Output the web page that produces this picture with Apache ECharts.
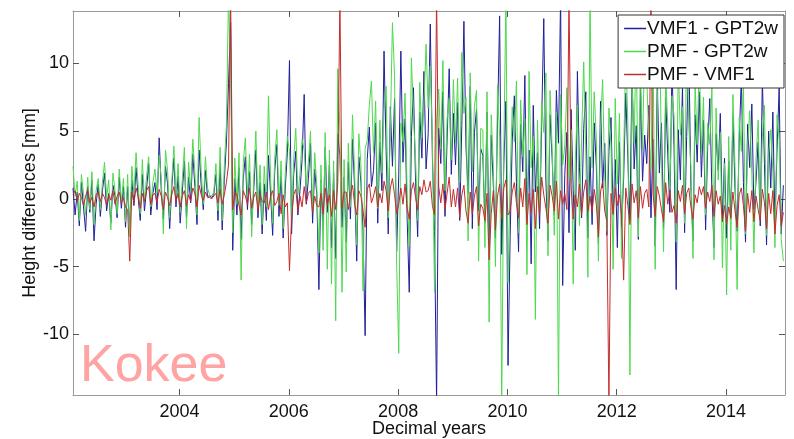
<!DOCTYPE html>
<html>
<head>
<meta charset="utf-8">
<script src="https://cdn.jsdelivr.net/npm/echarts@6/dist/echarts.min.js"></script>
<style>
  html, body { margin: 0; padding: 0; background: #fff; }
  #chart { width: 794px; height: 439px; }
</style>
</head>
<body>
<div id="chart"></div>
<script>
// Sampling epochs: two-weekly solutions starting at 2002.05
const epochStart = 2002.05;
const epochStep = 1 / 26;

// Height differences [mm], one line per half year
const vmf1MinusGpt2w = [
  0.8, -1.2, 0.5, -2.0, 1.2, -0.6, -2.4, 0.9, -1.0, 1.4, -3.1, -0.4, 1.1,
  -1.3, 0.6, 1.9, -0.9, 0.4, -1.8, 1.0, 0.2, -1.4, 1.6, -0.7, 0.9, -2.1,
  0.9, -2.2, 1.4, -0.5, 2.3, 0.1, -1.6, 1.8, -0.9, 0.7, 2.6, -1.2, 0.4,
  1.2, -0.8, 4.5, 0.6, -1.5, 2.4, 1.1, -2.2, 0.8, 3.0, -0.6, 1.7, -1.8,
  0.5, 2.8, -1.4, 1.6, -0.3, 3.3, 0.9, -1.9, 3.6, 1.0, -0.8, 2.1, 0.2,
  0.2, 0.1, 0.3, 1.8, -1.6, 2.6, -2.3, 1.4, 4.2, 8.5, 13.0, -3.8, 1.5,
  -1.2, 2.3, -3.0, 1.5, 3.1, -0.8, 2.0, -1.9, 0.7, 3.6, -1.4, 1.2, -2.6,
  1.1, -1.6, 3.2, 0.4, -2.7, 2.1, 4.0, -1.3, 1.7, -2.9, 0.8, 3.4, 10.2,
  -2.6, 1.8, 3.5, -1.2, 0.6, 2.9, 7.7, -0.4, 1.5, 4.1, -1.8, 2.2, 0.3,
  -6.7, 1.4, -2.3, 3.8, -1.0, 2.5, -3.6, 1.9, -4.4, 4.8, 3.2, -2.1, 1.6,
  -3.2, 2.7, -1.5, 4.4, 0.8, -4.6, 3.1, 1.2, -2.4, -10.1, 2.9, 5.3, 0.9,
  2.1, 5.6, -1.8, 4.2, 0.6, 10.9, 3.5, -2.6, 6.8, 2.4, 7.4, -3.9, 1.8,
  10.9, 2.7, 5.9, -1.5, -6.9, 4.6, 8.2, 1.3, -2.8, 6.4, 3.0, 9.4, 2.2,
  4.8, 12.9, 3.1, -2.4, -15.0, 5.2, 2.6, 7.9, -1.3, 4.4, 9.6, 1.8, 6.3,
  2.5, 7.1, -1.6, 5.4, 13.1, 3.8, 0.4, 8.3, -2.2, 4.9, 6.6, -0.9, 3.7,
  3.2, -1.8, 6.4, -3.5, 4.7, 1.0, -2.9, 5.8, 13.5, -4.1, 2.6, 7.2, -12.3,
  -2.8, 4.3, 7.6, 1.2, -3.9, 5.5, 2.0, 9.1, -1.7, 3.6, -4.8, 6.9, 0.5,
  3.4, -2.2, 5.7, 13.3, 1.4, -3.1, 6.2, 2.9, -1.2, 8.0, 4.1, 15.0, -6.4,
  1.8, 4.9, -2.5, 6.6, 0.7, -3.8, 9.4, 2.3, -1.4, 5.2, 7.9, -2.9, 3.1,
  -1.9, 5.6, 2.4, -3.3, 7.2, 0.8, 4.1, -2.7, 3.5, 6.0, -1.2, 2.9, -3.6,
  4.2, -2.1, 1.5, 7.8, 3.0, -1.6, 9.6, 2.2, 5.4, -3.0, 8.1, 1.3, 4.7,
  2.6, 6.9, -1.4, 4.4, -3.5, 8.7, 1.9, 5.6, -2.2, 7.5, 3.3, -1.0, 9.8,
  3.7, -6.7, 5.1, 1.4, 8.3, -2.5, 4.6, 11.2, 0.9, -3.1, 6.2, 2.7, 7.9,
  1.6, 5.8, -2.3, 3.9, 7.4, 0.5, -3.6, 4.8, 2.1, 6.3, -1.7, 3.0, -2.9,
  2.8, -1.5, 6.1, 0.7, -2.4, 4.4, 8.9, 1.2, -3.2, 5.5, 2.3, 7.0, -0.8,
  1.3, 4.2, -2.0, 8.9, 2.6, -3.4, 5.0, 0.8, 6.4, -1.9, 3.7, 8.2, -2.6,
  1.0
];

const pmfMinusGpt2w = [
  2.4, 0.2, 1.3, -1.6, 1.8, 0.4, -1.2, 1.6, -0.8, 2.0, -1.9, 0.6, 1.5,
  -0.8, 1.2, 2.7, 0.1, 1.4, -2.3, 1.9, 0.6, -1.1, 2.2, -0.3, 1.5, -1.7,
  1.8, -2.8, 2.4, 0.3, 3.4, 1.0, -1.1, 2.9, -0.2, 1.6, 3.1, -0.6, 1.2,
  2.2, 0.4, 3.2, 1.5, -2.6, 3.6, 2.1, -1.4, 1.3, 3.9, 0.2, 2.6, -1.0,
  1.4, 3.8, -2.2, 2.7, 0.6, 4.4, 1.9, -1.2, 6.0, 2.0, -0.4, 3.1, 0.8,
  0.3, 0.2, 0.5, 2.6, -0.9, 3.8, -1.6, 2.4, 5.5, 15.0, 9.2, -2.5, 3.0,
  -0.4, 3.4, -6.0, 2.6, 4.5, 0.2, 3.3, -2.8, 1.6, 5.0, -0.7, 2.5, -1.9,
  2.4, -0.6, 7.6, 1.5, -1.8, 3.0, 5.1, -0.5, 2.8, -2.2, 1.9, 4.6, 3.5,
  -1.5, 2.9, 5.2, 0.3, 1.8, 4.4, 3.6, 0.8, 2.7, 5.0, -0.9, 3.4, 1.0,
  -4.0, 2.5, -3.8, 4.9, -5.2, 3.6, -6.3, 2.8, -9.0, 9.6, 5.0, -6.9, 2.9,
  -5.4, 4.1, -0.6, 6.2, 1.9, -3.4, 4.8, 2.5, -6.8, 3.7, 4.3, 6.9, 8.7,
  3.4, 7.2, -0.7, 5.8, 1.9, 6.6, 8.3, -1.4, 5.2, 13.0, 9.1, -4.8, -11.4,
  5.6, 4.2, 7.8, 0.4, -3.5, 10.4, 6.1, 2.9, -1.6, 8.6, 4.5, 7.0, 11.4,
  6.7, 9.8, 4.4, -6.9, 6.0, 8.1, 3.7, 10.2, 0.6, 5.9, 7.4, 2.9, 8.8,
  4.1, 8.9, 1.2, 10.8, 6.3, 7.5, -3.1, 9.3, 2.0, 6.8, 8.0, -4.6, 5.2,
  5.1, -3.6, 7.9, -9.1, 6.2, 2.4, -5.0, 8.4, 4.6, -15.0, 3.8, 15.0, -6.2,
  1.6, 6.8, 4.2, 8.7, -2.5, 7.3, 3.1, 5.9, -5.6, 9.4, 2.3, 4.6, -8.9,
  5.8, -1.0, 7.1, 4.9, 9.3, -4.2, 8.0, 3.6, -2.7, 6.4, -15.0, 7.7, 2.5,
  3.9, 8.2, 1.5, 5.1, -6.3, 2.8, 6.9, -2.0, 4.4, 10.1, 3.3, -5.8, 15.0,
  2.3, 7.9, 4.5, -4.6, 5.3, 8.8, 1.7, -2.4, 6.7, 3.9, -5.2, 7.4, 1.1,
  6.3, -4.4, 3.2, 10.6, 5.7, -13.0, 8.4, 4.1, 12.2, -2.8, 9.7, 3.6, 11.5,
  8.9, 4.6, 2.2, 11.1, -5.2, 6.4, 13.5, 3.0, -3.9, 9.2, 5.5, 0.7, 7.6,
  6.1, -3.2, 9.9, 4.7, 6.8, -1.8, 12.6, 5.3, 2.4, -4.4, 8.5, 4.0, 10.4,
  3.3, 7.5, -1.2, 5.6, 4.0, 8.2, -4.5, 6.7, 1.4, 4.9, -5.1, 2.6, -7.1,
  4.6, -3.8, 7.7, 2.3, -6.7, 6.0, 3.5, 8.4, -2.6, 3.9, 6.5, 1.8, -4.0,
  3.0, 5.8, -1.3, 4.5, 6.9, -2.7, 3.3, 5.1, 2.0, -3.6, 6.2, 4.4, -3.0,
  -4.6
];

const pmfMinusVmf1 = [
  0.3, 0.6, -0.2, 0.4, 0.1, -0.5, 0.2, 0.7, -0.3, 0.1, -0.6, 0.3, 0.5,
  -0.2, 0.4, 0.1, -0.5, 0.3, -0.1, 0.6, -0.4, 0.2, 0.5, -0.3, 0.1, -0.6,
  -0.8, -4.6, 0.5, -0.3, 0.8, 0.2, -0.7, 0.4, -0.2, 0.6, 0.9, -0.4, 0.3,
  0.4, -0.3, 0.7, 0.2, -0.8, 0.5, 0.1, -0.5, 0.3, 0.9, -0.2, 0.4, -0.6,
  0.2, 0.6, -0.5, 0.3, -0.2, 0.8, 0.4, -0.6, 1.0, 0.3, -0.1, 0.5, 0.1,
  0.1, 0.0, 0.2, 0.4, -0.3, 0.7, -0.4, 0.3, 1.2, 2.5, 15.0, -0.8, 0.5,
  0.3, -0.5, -1.2, 0.6, 0.2, -0.4, 0.8, -0.7, 0.1, 0.5, -0.9, 0.3, -0.2,
  -0.3, 0.5, -0.8, 0.2, 0.6, -0.5, -0.2, 0.4, -1.1, 0.3, -0.6, -0.3, -5.3,
  -1.4, 0.3, 0.7, -0.9, 0.2, -0.6, 0.9, -0.3, 0.4, 0.6, -1.0, 0.2, -0.5,
  -0.6, 0.4, -1.1, 0.8, -0.5, 0.3, -1.3, 0.6, -0.8, 1.2, 15.0, -0.7, 0.5,
  0.5, -0.8, 0.3, 1.0, -0.4, -1.2, 0.6, 0.2, -0.9, -2.1, 0.7, 1.1, -0.3,
  0.2, 0.9, -0.6, 0.4, -0.3, 1.3, 0.6, -0.9, 0.8, 1.5, 0.3, -1.1, -0.4,
  0.8, -0.4, 1.1, -0.7, -1.5, 0.6, 1.2, 0.1, -0.8, 0.9, 0.3, 1.4, 0.5,
  0.6, 1.3, -0.5, -1.2, 15.0, 0.9, -0.3, 1.1, -0.8, 0.4, 1.6, -0.6, 0.7,
  -0.6, 0.8, -1.4, 0.3, 1.0, -0.9, -1.8, 0.5, -1.1, 0.2, 0.9, -2.0, -0.4,
  -0.7, -1.6, 0.4, -4.5, -1.1, 0.6, -2.3, 0.2, 1.1, -1.5, 0.8, 1.4, -1.2,
  -0.9, 0.5, 1.2, -0.3, -1.4, 0.8, -0.6, 1.5, -1.9, 0.4, -1.0, 0.7, -2.2,
  0.9, -1.2, 1.6, 0.3, -0.7, -1.8, 1.0, 0.2, -0.9, 1.3, -1.5, 0.6, -0.4,
  0.4, -0.8, 15.0, 0.9, -1.5, 0.3, -0.6, 1.1, -1.2, 0.5, 1.4, -0.9, 0.2,
  -1.0, 0.7, -0.4, -2.8, 0.5, 1.3, -0.9, -1.6, -15.0, 0.4, -1.1, 0.8, -0.5,
  0.3, -1.2, -6.0, 0.8, -0.5, -1.9, 1.1, -0.3, 0.6, -1.4, 0.9, -0.7, 0.4,
  0.7, -0.6, 15.0, 0.4, -1.3, 0.9, 0.2, -0.8, -1.7, 1.2, -0.4, 0.6, -1.0,
  -0.5, -1.8, 0.6, -0.2, 1.0, -1.1, 0.4, 0.8, -0.6, -1.5, 0.3, -0.3, 0.9,
  0.3, 0.9, -0.7, 0.5, -0.2, 1.0, -1.3, 0.6, -0.4, 0.2, -1.6, -0.5, -1.9,
  -0.6, -1.4, 0.5, -0.9, -2.1, 0.3, 0.8, -0.5, -2.4, 0.4, -1.0, 0.6, -1.7,
  0.2, -0.8, -1.6, 0.7, -0.3, -2.2, 0.4, -1.1, 0.6, -2.6, -0.5, 0.3, -2.0,
  -1.0
];

const yearTicks = [2004, 2006, 2008, 2010, 2012, 2014];
const heightTicks = [-10, -5, 0, 5, 10];

const seriesNames = ['VMF1 - GPT2w', 'PMF - GPT2w', 'PMF - VMF1'];
const seriesColors = ['#1f1f9a', '#4fd84f', '#c42c2c'];

function pairUp(values) {
  return values.map((v, i) => [epochStart + i * epochStep, v]);
}

const X_MIN = 2002.05, X_MAX = 2015.08;
const Y_MIN = -14.48, Y_MAX = 13.86;
const frameColor = '#9a9a9a';
const fontFam = '"Liberation Sans", Arial, sans-serif';

const chart = echarts.init(document.getElementById('chart'), null, { renderer: 'canvas' });

const baseX = {
  type: 'value', min: X_MIN, max: X_MAX,
  axisLine: { show: true, onZero: false, lineStyle: { color: frameColor, width: 1 } },
  axisTick: { show: true, inside: true, length: 6, customValues: yearTicks, lineStyle: { color: '#555' } },
  splitLine: { show: false }
};
const baseY = {
  type: 'value', min: Y_MIN, max: Y_MAX,
  axisLine: { show: true, onZero: false, lineStyle: { color: frameColor, width: 1 } },
  axisTick: { show: true, inside: true, length: 6, customValues: heightTicks, lineStyle: { color: '#555' } },
  splitLine: { show: false }
};

chart.setOption({
  animation: false,
  backgroundColor: '#fff',
  grid: { left: 73, right: 9, top: 11, bottom: 44, containLabel: false, outerBoundsMode: 'none' },
  legend: {
    orient: 'vertical',
    right: 10, top: 15,
    data: seriesNames.map((n) => ({ name: n, icon: 'rect' })),
    backgroundColor: '#fff',
    borderColor: '#333',
    borderWidth: 1,
    borderRadius: 0,
    padding: [4, 6, 4, 6],
    itemGap: 4,
    itemWidth: 22,
    itemHeight: 1.5,
    textStyle: { fontFamily: fontFam, fontSize: 19, lineHeight: 19, color: '#111', padding: [0, 0, 0, -4] },
    z: 10
  },
  xAxis: [
    Object.assign({}, baseX, {
      position: 'bottom',
      name: 'Decimal years',
      nameLocation: 'middle',
      nameGap: 25,
      nameMoveOverlap: false,
      nameTextStyle: { fontFamily: fontFam, fontSize: 18, color: '#111', verticalAlign: 'top' },
      axisLabel: {
        show: true, margin: 8, customValues: yearTicks,
        formatter: (v) => String(Math.round(v)),
        fontFamily: fontFam, fontSize: 18, color: '#111'
      }
    }),
    Object.assign({}, baseX, { position: 'top', axisLabel: { show: false } })
  ],
  yAxis: [
    Object.assign({}, baseY, {
      position: 'left',
      name: 'Height differences [mm]',
      nameLocation: 'middle',
      nameGap: 34,
      nameMoveOverlap: false,
      nameRotate: 90,
      nameTextStyle: { fontFamily: fontFam, fontSize: 18, color: '#111', verticalAlign: 'bottom' },
      axisLabel: { show: true, margin: 4, customValues: heightTicks, fontFamily: fontFam, fontSize: 18, color: '#111' }
    }),
    Object.assign({}, baseY, { position: 'right', axisLabel: { show: false } })
  ],
  graphic: [{
    type: 'text',
    left: 80, top: 341,
    style: { text: 'Kokee', fontFamily: fontFam, fontSize: 52, fill: '#ffa3a3' },
    z: 5
  }],
  series: [vmf1MinusGpt2w, pmfMinusGpt2w, pmfMinusVmf1].map((vals, k) => ({
    name: seriesNames[k],
    type: 'line',
    xAxisIndex: 0,
    yAxisIndex: 0,
    data: pairUp(vals),
    symbol: 'none',
    clip: true,
    lineStyle: { color: seriesColors[k], width: 1 },
    itemStyle: { color: seriesColors[k] },
    z: 2 + k
  }))
});
</script>
</body>
</html>
